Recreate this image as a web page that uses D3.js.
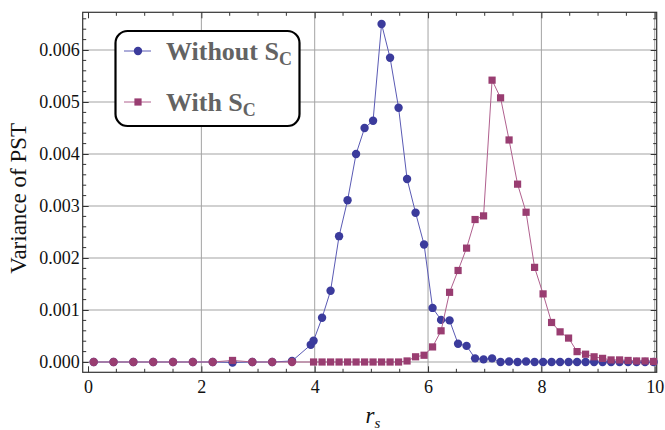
<!DOCTYPE html>
<html>
<head>
<meta charset="utf-8">
<script src="https://cdn.jsdelivr.net/npm/d3@7"></script>
<style>
  html, body { margin: 0; padding: 0; background: #fff; }
  svg { display: block; }
</style>
</head>
<body>
<svg id="chart" width="665" height="430"></svg>
<script>
// Sample positions r_s: coarse scan, one extra point, then fine scan
const rCoarse = [0.1, 0.45, 0.8, 1.15, 1.5, 1.85, 2.2, 2.55, 2.9, 3.25, 3.6];
const rExtra = [3.93];
const rFine = [3.98, 4.13, 4.28, 4.43, 4.58, 4.73, 4.88, 5.03, 5.18, 5.33, 5.48,
  5.63, 5.78, 5.93, 6.08, 6.23, 6.38, 6.53, 6.68, 6.83, 6.98, 7.13, 7.28, 7.43,
  7.58, 7.73, 7.88, 8.03, 8.18, 8.33, 8.48, 8.63, 8.78, 8.93, 9.08, 9.23, 9.38,
  9.53, 9.68, 9.83, 9.98];

// Variance of PST without S_C
const withoutCoarse = [0, 0, 0, 0, 0, 0, 0, -0.00001, 0, 0, 0.00002];
const withoutExtra = [0.00033];
const withoutFine = [0.00041, 0.00085, 0.00137, 0.00242, 0.00311, 0.00400, 0.00450,
  0.00464, 0.00650, 0.00585, 0.00489, 0.00352, 0.00287, 0.00226, 0.00104, 0.00081,
  0.00080, 0.00035, 0.00031, 0.00007, 0.00005, 0.00007, 0, 0.00001, 0, 0.00001,
  0, 0, 0, 0, 0, 0, 0, 0, 0, 0, 0, 0, 0, 0, 0];

// Variance of PST with S_C
const withCoarse = [0, 0, 0, 0, 0, 0, 0, 0.00003, 0, 0, 0];
const withFine = [0, 0, 0, 0, 0, 0, 0, 0, 0, 0, 0,
  0.00002, 0.00010, 0.00013, 0.00029, 0.00060, 0.00134, 0.00176, 0.00219, 0.00274,
  0.00281, 0.00542, 0.00508, 0.00427, 0.00342, 0.00288, 0.00182, 0.00131, 0.00076,
  0.00058, 0.00046, 0.00020, 0.00015, 0.00010, 0.00007, 0.00004, 0.00004, 0.00003,
  0.00002, 0.00002, 0.00001];

const xTicks = [0, 2, 4, 6, 8, 10];
const yTicks = [0, 0.001, 0.002, 0.003, 0.004, 0.005, 0.006];
const legendLabels = ["Without S", "With S"];

const blue = "#3b3b9c";
const magenta = "#993d71";
const serif = "'Liberation Serif', 'Times New Roman', Times, serif";

const svg = d3.select("#chart");
const L = 82.7, R = 656.7, T = 12.3, B = 372.3;

const x = d3.scaleLinear().domain([-0.094, 10.035]).range([L, R]);
const y = d3.scaleLinear().domain([-0.000198, 0.006725]).range([B, T]);

const seriesWithout = rCoarse.concat(rExtra, rFine).map((r, i) => ({
  r, v: withoutCoarse.concat(withoutExtra, withoutFine)[i]
}));
const seriesWith = rCoarse.concat(rFine).map((r, i) => ({
  r, v: withCoarse.concat(withFine)[i], coarse: i < rCoarse.length
}));

// Grid
const grid = svg.append("g");
grid.selectAll("line.gx").data(xTicks.filter(d => d > 0)).join("line")
  .attr("x1", d => x(d)).attr("x2", d => x(d)).attr("y1", T).attr("y2", B)
  .attr("stroke", "#a3a3a3").attr("stroke-width", 1);
grid.selectAll("line.gy").data(yTicks).join("line")
  .attr("y1", d => y(d)).attr("y2", d => y(d)).attr("x1", L).attr("x2", R)
  .attr("stroke", "#a3a3a3").attr("stroke-width", 1);

// Frame ticks (inward on all four sides)
const xMinor = d3.range(0, 10.01, 0.5).filter(d => !xTicks.includes(d));
const yMinor = d3.range(0, 0.00665, 0.0002).filter(d => Math.abs(Math.round(d * 1000) - d * 1000) > 1e-6);

const axB = d3.axisBottom(x).tickValues(xTicks).tickSize(-6).tickPadding(8).tickFormat(d3.format("d"));
const axT = d3.axisTop(x).tickValues(xTicks).tickSize(-6).tickFormat("");
const axL = d3.axisLeft(y).tickValues(yTicks).tickSize(-6).tickPadding(3).tickFormat(d3.format(".3f"));
const axR = d3.axisRight(y).tickValues(yTicks).tickSize(-6).tickFormat("");

function style(g) {
  g.attr("font-family", serif).attr("font-size", 18);
  g.select(".domain").remove();
  g.selectAll(".tick line").attr("stroke", "#333").attr("stroke-width", 1);
  g.selectAll("text").attr("fill", "#111");
}
svg.append("g").attr("transform", `translate(0,${B})`).call(axB).call(style);
svg.append("g").attr("transform", `translate(0,${T})`).call(axT).call(style);
svg.append("g").attr("transform", `translate(${L},0)`).call(axL).call(style);
svg.append("g").attr("transform", `translate(${R},0)`).call(axR).call(style);

const minor = svg.append("g").attr("stroke", "#333").attr("stroke-width", 1);
xMinor.forEach(d => {
  minor.append("line").attr("x1", x(d)).attr("x2", x(d)).attr("y1", B).attr("y2", B - 3.5);
  minor.append("line").attr("x1", x(d)).attr("x2", x(d)).attr("y1", T).attr("y2", T + 3.5);
});
yMinor.forEach(d => {
  minor.append("line").attr("y1", y(d)).attr("y2", y(d)).attr("x1", L).attr("x2", L + 3.5);
  minor.append("line").attr("y1", y(d)).attr("y2", y(d)).attr("x1", R).attr("x2", R - 3.5);
});

svg.append("rect").attr("x", L).attr("y", T).attr("width", R - L).attr("height", B - T)
  .attr("fill", "none").attr("stroke", "#333").attr("stroke-width", 1.2);

// Series lines and markers
const line = d3.line().x(d => x(d.r)).y(d => y(d.v));
svg.append("path").datum(seriesWithout).attr("d", line)
  .attr("fill", "none").attr("stroke", "#5a5ab4").attr("stroke-width", 1);
svg.append("g").selectAll("circle").data(seriesWithout).join("circle")
  .attr("cx", d => x(d.r)).attr("cy", d => y(d.v)).attr("r", 4.2).attr("fill", blue);

svg.append("path").datum(seriesWith).attr("d", line)
  .attr("fill", "none").attr("stroke", "#b0608e").attr("stroke-width", 1);
const mk = svg.append("g");
seriesWith.forEach(d => {
  if (d.coarse && d.v === 0) {
    mk.append("circle").attr("cx", x(d.r)).attr("cy", y(d.v)).attr("r", 4.2).attr("fill", magenta);
  } else {
    mk.append("rect").attr("x", x(d.r) - 3.6).attr("y", y(d.v) - 3.6)
      .attr("width", 7.2).attr("height", 7.2).attr("fill", magenta);
  }
});

// Axis titles
svg.append("text")
  .attr("transform", `translate(26,${(T + B) / 2 + 6}) rotate(-90)`)
  .attr("text-anchor", "middle")
  .attr("font-family", serif)
  .attr("font-size", 23).attr("fill", "#111")
  .text("Variance of PST");

const xt = svg.append("text")
  .attr("x", 373).attr("y", 423).attr("text-anchor", "middle")
  .attr("font-family", serif)
  .attr("font-style", "italic").attr("font-size", 23).attr("fill", "#111");
xt.append("tspan").text("r");
xt.append("tspan").attr("font-size", 15).attr("dy", 5).text("s");

// Legend
const lg = svg.append("g");
lg.append("rect").attr("x", 115.5).attr("y", 31).attr("width", 184).attr("height", 95)
  .attr("rx", 12).attr("ry", 12).attr("fill", "#fff").attr("stroke", "#000").attr("stroke-width", 2.2);

const entries = [
  { label: legendLabels[0], color: blue, lineColor: "#5a5ab4", shape: "circle", cy: 51 },
  { label: legendLabels[1], color: magenta, lineColor: "#b0608e", shape: "square", cy: 102 }
];
entries.forEach(e => {
  lg.append("line").attr("x1", 124).attr("x2", 151).attr("y1", e.cy).attr("y2", e.cy)
    .attr("stroke", e.lineColor).attr("stroke-width", 1);
  if (e.shape === "circle") {
    lg.append("circle").attr("cx", 138).attr("cy", e.cy).attr("r", 4.2).attr("fill", e.color);
  } else {
    lg.append("rect").attr("x", 138 - 3.6).attr("y", e.cy - 3.6).attr("width", 7.2).attr("height", 7.2)
      .attr("fill", e.color);
  }
  const t = lg.append("text").attr("x", 166).attr("y", e.cy + 9)
    .attr("font-family", serif)
    .attr("font-weight", "bold").attr("font-size", 26).attr("fill", "#636363");
  t.append("tspan").text(e.label);
  t.append("tspan").attr("font-size", 18).attr("dy", 5).text("C");
});
</script>
</body>
</html>
